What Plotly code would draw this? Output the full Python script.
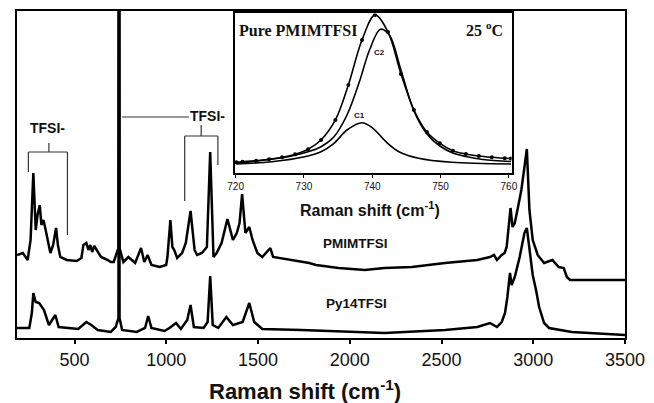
import plotly.graph_objects as go

# ---- Main spectra (Raman shift in cm-1, intensity in arbitrary units) ----
pm_x = [186, 218, 244, 260, 275, 288, 298, 310, 319, 330,
        340, 368, 383, 399, 409, 422, 457, 511, 537, 548,
        564, 575, 585, 596, 607, 628, 644, 681, 697, 713,
        724, 739, 742, 745, 766, 793, 830, 862, 880, 898,
        919, 964, 999, 1006, 1022, 1033, 1043, 1059, 1086, 1106,
        1132, 1154, 1168, 1194, 1221, 1239, 1257, 1274, 1301, 1333,
        1363, 1384, 1399, 1413, 1431, 1452, 1470, 1496, 1523, 1550,
        1567, 1582, 1672, 1779, 1816, 1939, 2082, 2189, 2338, 2519,
        2695, 2764, 2786, 2802, 2828, 2844, 2855, 2864, 2876, 2887,
        2899, 2917, 2935, 2952, 2965, 2979, 2997, 3024, 3059, 3104,
        3139, 3166, 3183, 3201, 3500]
pm_y = [83, 85, 78, 98, 165, 108, 123, 133, 113, 118,
        110, 85, 93, 110, 93, 81, 78, 77, 80, 93,
        95, 88, 93, 86, 92, 86, 81, 78, 76, 76,
        83, 90, 700, 90, 76, 81, 75, 90, 76, 83,
        73, 71, 73, 81, 118, 91, 88, 80, 85, 95,
        127, 88, 83, 85, 91, 186, 81, 85, 95, 119,
        98, 105, 115, 144, 105, 111, 98, 85, 81, 86,
        90, 81, 78, 75, 73, 70, 68, 70, 71, 75,
        78, 81, 83, 78, 83, 85, 91, 105, 130, 111,
        115, 131, 148, 171, 189, 128, 98, 83, 75, 78,
        71, 70, 61, 58, 58]

py_x = [186, 253, 267, 275, 288, 307, 333, 360, 395, 413,
        520, 564, 591, 626, 697, 724, 739, 742, 745, 759,
        839, 884, 901, 919, 990, 1017, 1053, 1079, 1114, 1132,
        1150, 1203, 1225, 1239, 1253, 1283, 1327, 1363, 1416, 1452,
        1479, 1523, 1736, 2189, 2519, 2695, 2764, 2802, 2828, 2846,
        2859, 2873, 2882, 2899, 2926, 2952, 2965, 2979, 2997, 3015,
        3032, 3059, 3086, 3210, 3334, 3500]
py_y = [10, 10, 25, 45, 36, 35, 28, 13, 23, 11,
        9, 16, 13, 8, 6, 11, 20, 700, 20, 8,
        6, 10, 22, 10, 7, 10, 15, 9, 18, 33,
        11, 10, 16, 62, 13, 10, 21, 13, 16, 35,
        16, 9, 8, 5, 8, 11, 15, 11, 16, 25,
        41, 65, 53, 61, 81, 105, 110, 88, 63, 48,
        31, 15, 10, 6, 5, 3]

main_ticks = [500, 1000, 1500, 2000, 2500, 3000, 3500]

# ---- Inset: fit of the 740 cm-1 band for pure PMIMTFSI ----
tot_x = [720.1, 721.0, 723.0, 724.9, 726.8, 728.7, 730.6, 732.5, 734.6, 736.5, 738.5,
         740.4, 742.3, 744.2, 746.1, 748.0, 749.9, 751.8, 753.7, 755.6, 757.5, 759.4, 760.3]
tot_y = [10.8, 11.3, 12.3, 13.7, 15.7, 18.7, 23.7, 33, 53, 88, 133,
         158, 141, 99, 63, 41, 29.7, 22.3, 19, 17, 15.7, 14.7, 14.5]
c2_x = [720.1, 727.7, 730.6, 732.5, 734.4, 736.3, 738.2, 739.6, 741.2, 742.5,
        744.2, 746.1, 748.0, 749.9, 751.8, 753.7, 756.2, 760.3]
c2_y = [9.7, 16.3, 21.3, 26.3, 36.3, 58, 93, 123, 143.7, 138,
        103, 62, 39, 27, 20, 16.5, 13.5, 11.5]
c1_x = [720.1, 725.3, 730.1, 732.5, 734.4, 736.3, 738.5, 740.1, 742.0, 743.9,
        746.8, 751.6, 760.3]
c1_y = [9, 11.3, 16.3, 21.3, 29.7, 43, 50.3, 44.7, 31.3, 21.3,
        14.7, 10.7, 9]
inset_ticks = [720, 730, 740, 750, 760]

fig = go.Figure()

fig.add_trace(go.Scatter(x=pm_x, y=pm_y, mode="lines", line=dict(color="black", width=2.5),
                         xaxis="x", yaxis="y", showlegend=False))
fig.add_trace(go.Scatter(x=py_x, y=py_y, mode="lines", line=dict(color="black", width=2.5),
                         xaxis="x", yaxis="y", showlegend=False))

fig.add_trace(go.Scatter(x=tot_x, y=tot_y, mode="lines+markers", line=dict(color="black", width=1.6, shape="spline"),
                         marker=dict(color="black", size=4), xaxis="x2", yaxis="y2", showlegend=False))
fig.add_trace(go.Scatter(x=c2_x, y=c2_y, mode="lines", line=dict(color="black", width=1.6, shape="spline"),
                         xaxis="x2", yaxis="y2", showlegend=False))
fig.add_trace(go.Scatter(x=c1_x, y=c1_y, mode="lines", line=dict(color="black", width=1.6, shape="spline"),
                         xaxis="x2", yaxis="y2", showlegend=False))

sans = "Liberation Sans, Arial, sans-serif"
serif = "Liberation Serif, Times New Roman, serif"

fig.update_layout(
    width=654, height=403,
    margin=dict(l=9, r=23, t=11, b=65),
    paper_bgcolor="white", plot_bgcolor="white",
    xaxis=dict(range=[186, 3500], tickvals=main_ticks, ticks="outside", ticklen=4, tickwidth=1.5,
               tickcolor="black", showline=True, mirror=True, linewidth=2, linecolor="black",
               showgrid=False, zeroline=False, tickfont=dict(family=sans, size=18, color="#111")),
    yaxis=dict(range=[0, 327], showticklabels=False, ticks="", showline=True, mirror=True,
               linewidth=2, linecolor="black", showgrid=False, zeroline=False),
    xaxis2=dict(domain=[0.3585, 0.8135], anchor="y2", range=[719.9, 760.4], tickvals=inset_ticks,
                ticks="outside", ticklen=3, tickwidth=1, tickcolor="black", showline=True, mirror=True,
                linewidth=1.5, linecolor="black", showgrid=False, zeroline=False,
                tickfont=dict(family=sans, size=10, color="#111")),
    yaxis2=dict(domain=[0.5046, 0.9924], anchor="x2", range=[0, 159.5], showticklabels=False, ticks="",
                showline=True, mirror=True, linewidth=1.5, linecolor="black", showgrid=False, zeroline=False),
)

line_style = dict(color="#333", width=1.2)
brackets = [
    (360, 186, 360, 195), (248, 186, 461, 186), (248, 166, 248, 186), (461, 103, 461, 186),
    (1190, 202, 1190, 213), (1100, 202, 1281, 202), (1100, 137, 1100, 202), (1281, 173, 1281, 202),
    (759, 221, 1123, 221),
]
for x0, y0, x1, y1 in brackets:
    fig.add_shape(type="line", xref="x", yref="y", x0=x0, y0=y0, x1=x1, y1=y1, line=line_style)

def ann(text, x, y, size, family=sans, xref="paper", yref="paper"):
    fig.add_annotation(text=text, x=x, y=y, xref=xref, yref=yref,
                       showarrow=False, xanchor="center", yanchor="middle",
                       font=dict(family=family, size=size, color="#111", weight="bold"))

ann("TFSI-", 0.0506, 0.642, 14)
ann("TFSI-", 0.3135, 0.680, 14)
ann("PMIMTFSI", 0.5563, 0.2875, 13.5)
ann("Py14TFSI", 0.558, 0.107, 13.5)
ann("Raman shift (cm<sup>-1</sup>)", 0.474, -0.159, 22)
ann("Raman shift (cm<sup>-1</sup>)", 0.580, 0.394, 16)
ann("Pure PMIMTFSI", 0.4614, 0.939, 16, family=serif)
ann("25 <sup>o</sup>C", 0.7685, 0.945, 16, family=serif)
ann("C2", 741.1, 120, 8, xref="x2", yref="y2")
ann("C1", 738.2, 57, 8, xref="x2", yref="y2")

fig.write_html("out.html")
